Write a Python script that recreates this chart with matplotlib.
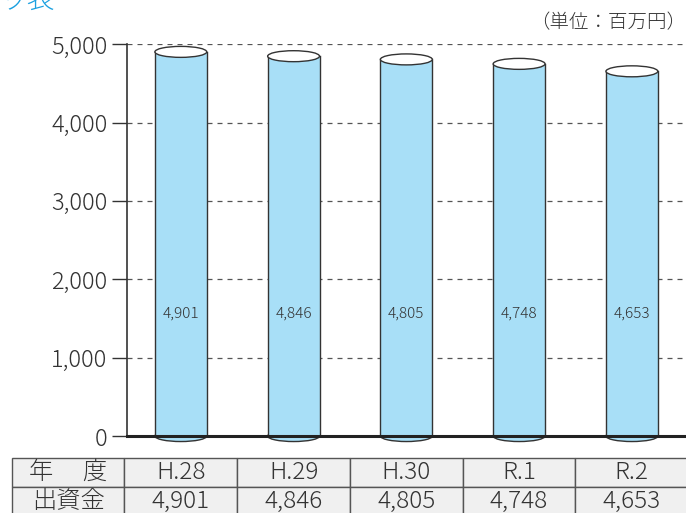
import matplotlib
matplotlib.use("Agg")
import matplotlib.pyplot as plt
from matplotlib.patches import Ellipse

plt.rcParams['font.family'] = ['Noto Sans CJK JP', 'DejaVu Sans']
plt.rcParams['font.weight'] = 'light'

# データ
years = ["H.28", "H.29", "H.30", "R.1", "R.2"]
values = [4901, 4846, 4805, 4748, 4653]
labels = ["4,901", "4,846", "4,805", "4,748", "4,653"]
yticks = [0, 1000, 2000, 3000, 4000, 5000]
ytick_labels = ["0", "1,000", "2,000", "3,000", "4,000", "5,000"]

fill = "#a8dff7"
edge = "#333333"
bw = 0.46
eh = 140

fig = plt.figure(figsize=(6.86, 5.13), dpi=100)
ax = fig.add_axes([0.185, 0.150, 0.815, 0.764])

for i, v in enumerate(values):
    # 円柱の下の楕円
    ax.add_patch(Ellipse((i, 0), bw, eh, facecolor=fill, edgecolor=edge,
                         lw=1.0, zorder=2, clip_on=False))
    ax.bar(i, v, width=bw, color=fill, edgecolor="none", zorder=3)
    ax.plot([i - bw / 2, i - bw / 2], [0, v], color=edge, lw=1.0, zorder=4)
    ax.plot([i + bw / 2, i + bw / 2], [0, v], color=edge, lw=1.0, zorder=4)
    # 上の楕円
    ax.add_patch(Ellipse((i, v), bw, eh, facecolor="white", edgecolor=edge,
                         lw=1.0, zorder=5, clip_on=False))
    ax.text(i, 1560, labels[i], ha="center", va="center", fontsize=11,
            color="#333333", zorder=6)

ax.set_xlim(-0.478, 4.48)
ax.set_ylim(0, 5000)
ax.set_yticks(yticks)
ax.set_yticklabels(ytick_labels, fontsize=17, color="#333333")
ax.set_xticks([])
ax.tick_params(axis="y", direction="out", length=11, width=1.0, color="#333333", pad=3)
ax.yaxis.grid(True, linestyle=(0, (4, 4)), color="#555555", lw=0.9)
ax.set_axisbelow(True)
for s in ["top", "right"]:
    ax.spines[s].set_visible(False)
ax.spines["left"].set_linewidth(1.2)
ax.spines["left"].set_color("#333333")
ax.spines["bottom"].set_linewidth(2.2)
ax.spines["bottom"].set_color("#222222")
ax.spines["bottom"].set_zorder(7)

fig.text(1.0, 0.955, "（単位：百万円）", ha="right", va="center", fontsize=14, color="#333333")
fig.text(0.0, 1.0, "ッ表", ha="left", va="center", fontsize=20, color="#1aa0e0")

# 表
rows = [["年　 度"] + years, ["出資金"] + labels]
tab = ax.table(cellText=rows, cellLoc="center",
               bbox=[(-1.5 + 0.478) / 4.958, -0.204, 6 / 4.958, 0.148])
tab.auto_set_font_size(False)
for (r, c), cell in tab.get_celld().items():
    cell.set_facecolor("#f0f0f0")
    cell.set_edgecolor("#555555")
    cell.set_linewidth(1.0)
    cell.get_text().set_fontsize(17.5)
    cell.get_text().set_color("#333333")
    cell.set_clip_on(False)

fig.savefig("out.png", dpi=100)
